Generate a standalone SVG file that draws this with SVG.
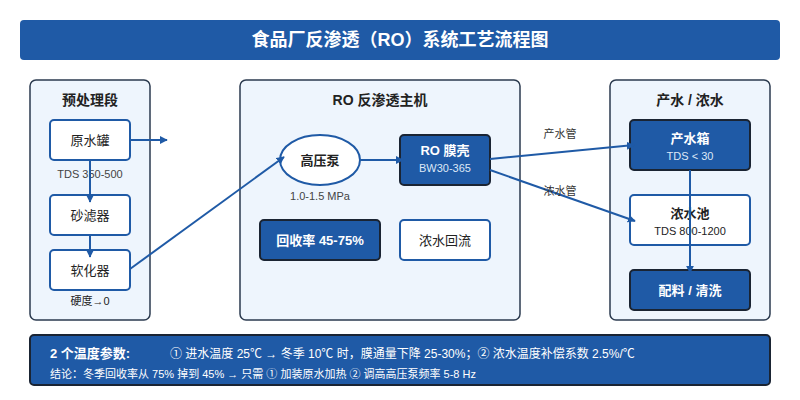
<svg xmlns="http://www.w3.org/2000/svg" width="800" height="400" viewBox="0 0 800 400">
<defs>
<marker id="ah" viewBox="0 0 10 10" refX="9" refY="5" markerWidth="8" markerHeight="8" markerUnits="userSpaceOnUse" orient="auto"><path d="M0,0 L10,5 L0,10 z" fill="#1f5aa6"/></marker>
<style>
text{font-family:"Liberation Sans","Noto Sans CJK SC",sans-serif;}
.panel{fill:#eef5fd;stroke:#2b3a4f;stroke-width:1.5;}
.ptitle{font-size:14px;font-weight:bold;fill:#222;text-anchor:middle;}
.wnode{fill:#fff;stroke:#1f5aa6;stroke-width:2;}
.dnode{fill:#1f5aa6;stroke:#1a2433;stroke-width:2;}
.wt{font-size:13px;fill:#222;text-anchor:middle;}
.wtb{font-size:13px;font-weight:bold;fill:#222;text-anchor:middle;}
.dt{font-size:13px;font-weight:bold;fill:#fff;text-anchor:middle;}
.ds{font-size:11px;fill:#dde8f7;text-anchor:middle;}
.sub{font-size:11px;fill:#444;text-anchor:middle;}
.conn{stroke:#1f5aa6;stroke-width:2;fill:none;}
</style>
</defs>
<rect width="800" height="400" fill="#fff"/>
<g id="title">
<rect x="20" y="20" width="760" height="40" rx="4" fill="#1f5aa6"/>
<text x="400" y="46" font-size="18" font-weight="bold" fill="#fff" text-anchor="middle">食品厂反渗透（RO）系统工艺流程图</text>
</g>
<g id="panel-pre">
<rect class="panel" x="30" y="80" width="120" height="240" rx="6"/>
<text class="ptitle" x="90" y="105">预处理段</text>
</g>
<g id="panel-ro">
<rect class="panel" x="240" y="80" width="280" height="240" rx="6"/>
<text class="ptitle" x="380" y="105">RO 反渗透主机</text>
</g>
<g id="panel-out">
<rect class="panel" x="610" y="80" width="160" height="240" rx="6"/>
<text class="ptitle" x="690" y="105">产水 / 浓水</text>
</g>
<g id="n-yuanshui">
<rect class="wnode" x="50" y="120" width="80" height="40" rx="4"/>
<text class="wt" x="90" y="145">原水罐</text>
</g>
<text class="sub" x="90" y="178">TDS 350-500</text>
<g id="n-shalv">
<rect class="wnode" x="50" y="195" width="80" height="40" rx="4"/>
<text class="wt" x="90" y="220">砂滤器</text>
</g>
<g id="n-ruanhua">
<rect class="wnode" x="50" y="250" width="80" height="40" rx="4"/>
<text class="wt" x="90" y="275">软化器</text>
</g>
<text x="90" y="305" font-size="11" fill="#222" text-anchor="middle">硬度→0</text>
<g id="n-pump">
<ellipse class="wnode" cx="320" cy="160" rx="40" ry="25"/>
<text class="wtb" x="320" y="165">高压泵</text>
</g>
<text class="sub" x="320" y="200">1.0-1.5 MPa</text>
<g id="n-membrane">
<rect class="dnode" x="400" y="135" width="90" height="50" rx="4"/>
<text class="dt" x="445" y="155">RO 膜壳</text>
<text class="ds" x="445" y="172">BW30-365</text>
</g>
<g id="n-recovery">
<rect class="dnode" x="260" y="220" width="120" height="40" rx="4"/>
<text class="dt" x="320" y="245">回收率 45-75%</text>
</g>
<g id="n-reflux">
<rect class="wnode" x="400" y="220" width="90" height="40" rx="4"/>
<text class="wt" x="445" y="245">浓水回流</text>
</g>
<g id="n-product">
<rect class="dnode" x="630" y="120" width="120" height="50" rx="4"/>
<text class="dt" x="690" y="143">产水箱</text>
<text class="ds" x="690" y="160">TDS &lt; 30</text>
</g>
<g id="n-brine">
<rect class="wnode" x="630" y="195" width="120" height="50" rx="4"/>
<text class="wtb" x="690" y="218">浓水池</text>
<text x="690" y="235" font-size="11" fill="#222" text-anchor="middle">TDS 800-1200</text>
</g>
<g id="n-mix">
<rect class="dnode" x="630" y="270" width="120" height="40" rx="4"/>
<text class="dt" x="690" y="295">配料 / 清洗</text>
</g>
<g id="connectors">
<line class="conn" x1="130" y1="140" x2="167" y2="140" marker-end="url(#ah)"/>
<line class="conn" x1="90" y1="160" x2="90" y2="202" marker-end="url(#ah)"/>
<line class="conn" x1="90" y1="235" x2="90" y2="257" marker-end="url(#ah)"/>
<line class="conn" x1="130" y1="269" x2="284" y2="157" marker-end="url(#ah)"/>
<line class="conn" x1="360" y1="160" x2="403" y2="160" marker-end="url(#ah)"/>
<line class="conn" x1="490" y1="159" x2="634" y2="145" marker-end="url(#ah)"/>
<line class="conn" x1="490" y1="170" x2="635" y2="221" marker-end="url(#ah)"/>
<line class="conn" x1="690" y1="170" x2="690" y2="273" marker-end="url(#ah)"/>
<text x="560" y="138" font-size="11" fill="#333" text-anchor="middle">产水管</text>
<text x="560" y="195" font-size="11" fill="#333" text-anchor="middle">浓水管</text>
</g>
<g id="note">
<rect x="30" y="335" width="740" height="50" rx="4" fill="#1f5aa6" stroke="#1a2433" stroke-width="2"/>
<text x="50" y="358" font-size="13" font-weight="bold" fill="#fff">2 个温度参数:</text>
<text x="170" y="358" font-size="12" fill="#fff">① 进水温度 25℃ → 冬季 10℃ 时，膜通量下降 25-30%；② 浓水温度补偿系数 2.5%/℃</text>
<text x="50" y="378" font-size="11" fill="#fff">结论：冬季回收率从 75% 掉到 45% → 只需 ① 加装原水加热 ② 调高高压泵频率 5-8 Hz</text>
</g>
</svg>
